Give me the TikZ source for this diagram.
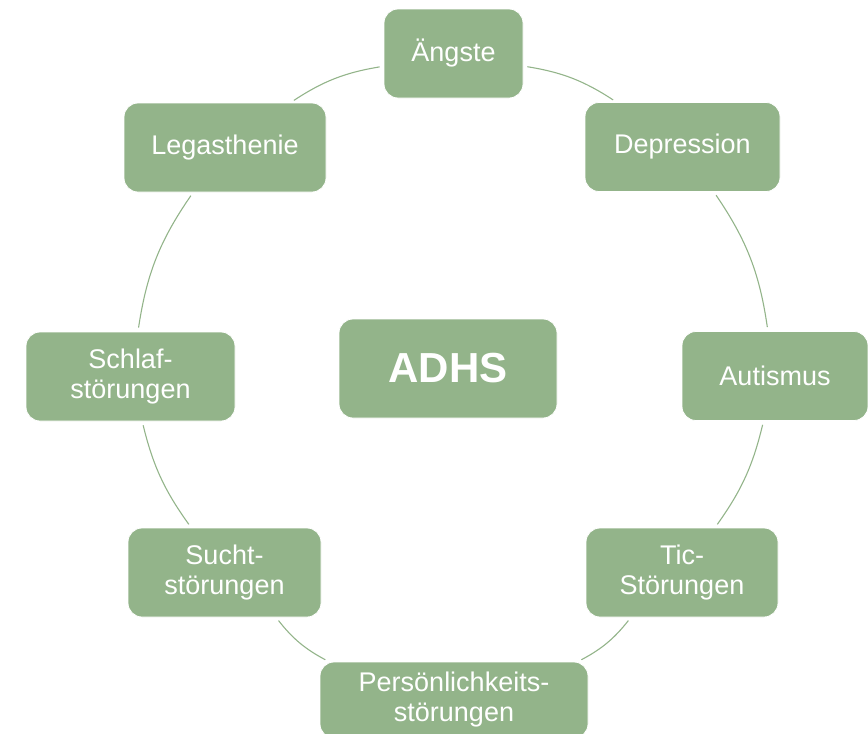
\documentclass[tikz,border=0pt]{standalone}
\usepackage{fontspec}
\setmainfont{Liberation Sans}
\usepackage{tikz}
\usetikzlibrary{arrows.meta,positioning,calc}
\definecolor{sage}{RGB}{147,180,138}

\begin{document}
\begin{tikzpicture}[x=1pt,y=-1pt,
    box/.style={draw=white,line width=0.8pt,fill=sage,rounded corners=14pt,text=white,align=center,
      font=\fontsize{27}{30}\selectfont,inner sep=2pt,minimum height=89pt},
    ring/.style={draw=sage,line width=1.1pt,shorten <=4pt,shorten >=4pt}]
          \useasboundingbox (0,0) rectangle (868,734);
          \node[box,minimum width=139pt] (aengste) at (453.5,53.5) {Ängste};
          \node[box,minimum width=195pt] (depr) at (682.5,147) {Depression};
          \node[box,minimum width=186pt] (autis) at (775,376) {Autismus};
          \node[box,minimum width=192pt] (tic) at (682,572.5) {Tic-\\Störungen};
          \node[box,minimum width=268pt,minimum height=76pt] (pers) at (454,700) {Persönlichkeits-\\störungen};
          \node[box,minimum width=193pt] (sucht) at (224.5,572.5) {Sucht-\\störungen};
          \node[box,minimum width=209pt] (schlaf) at (130.5,376.5) {Schlaf-\\störungen};
          \node[box,minimum width=202pt] (legas) at (225,147.5) {Legasthenie};
          \node[box,minimum width=218pt,minimum height=99pt,font=\fontsize{42}{46}\selectfont\bfseries] (adhs) at (448,368.5) {ADHS};
          % ring around the centre
          \draw[ring] (aengste) to[bend left=12] (depr);
          \draw[ring] (depr) to[bend left=13] (autis);
          \draw[ring] (autis) to[bend left=11] (tic);
          \draw[ring] (tic) to[bend left=12] (pers);
          \draw[ring] (pers) to[bend left=12] (sucht);
          \draw[ring] (sucht) to[bend left=11] (schlaf);
          \draw[ring] (schlaf) to[bend left=13] (legas);
          \draw[ring] (legas) to[bend left=12] (aengste);
        \end{tikzpicture}
\end{document}
